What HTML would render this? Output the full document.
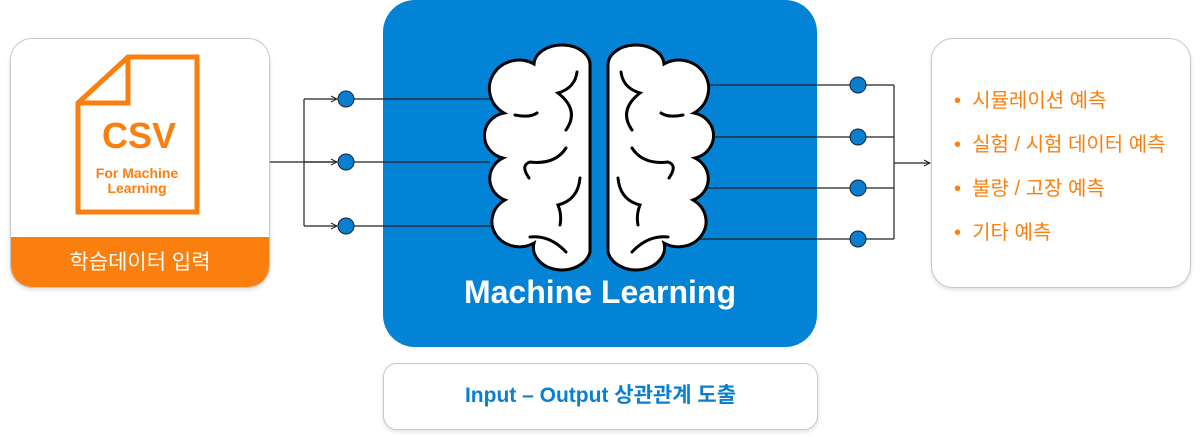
<!DOCTYPE html>
<html><head><meta charset="utf-8"><style>
body{margin:0;width:1200px;height:437px;background:#fff;position:relative;overflow:hidden;font-family:"Liberation Sans","Noto Sans CJK KR",sans-serif}
.box{position:absolute;box-sizing:border-box;border:1px solid #c8c8c8;border-radius:22px;background:#fff;box-shadow:0 2px 4px rgba(0,0,0,.12)}
</style></head><body>
<div class="box" style="left:10px;top:38px;width:260px;height:250px;overflow:hidden">
  <div style="position:absolute;left:0;right:0;top:198px;bottom:0;background:#fb7f0f;color:#fff;font-size:21px;text-align:center;line-height:52px">학습데이터 입력</div>
</div>
<div style="position:absolute;left:383px;top:0;width:434px;height:347px;background:#0283d6;border-radius:32px"></div>
<div style="position:absolute;left:383px;top:274px;width:434px;text-align:center;color:#fff;font-weight:bold;font-size:32px">Machine Learning</div>
<div class="box" style="left:383px;top:363px;width:435px;height:67px;border-radius:14px;text-align:center;line-height:64px;color:#0a7fd2;font-weight:bold;font-size:21px">Input – Output 상관관계 도출</div>
<div class="box" style="left:931px;top:38px;width:260px;height:250px;color:#fb7f0f;font-size:20px">
  <div style="position:absolute;left:22px;top:40px;line-height:44px;white-space:nowrap">
    <div>•&nbsp; 시뮬레이션 예측</div><div>•&nbsp; 실험 / 시험 데이터 예측</div><div>•&nbsp; 불량 / 고장 예측</div><div>•&nbsp; 기타 예측</div>
  </div>
</div>
<svg width="1200" height="437" style="position:absolute;left:0;top:0">
  <defs><marker id="a" markerWidth="8" markerHeight="8" refX="7" refY="4" orient="auto" markerUnits="userSpaceOnUse"><path d="M1,1 L7,4 L1,7" fill="none" stroke="#222" stroke-width="1"/></marker></defs>
  <path d="M128,57 L197,57 L197,212 L78,212 L78,103 Z M128,57 L128,103 L78,103" fill="#fff" stroke="#fb7f0f" stroke-width="5" stroke-linejoin="miter"/>
  <text x="139" y="148" text-anchor="middle" fill="#fb7f0f" font-weight="bold" font-size="36" font-family="Liberation Sans">CSV</text>
  <text x="137" y="178" text-anchor="middle" fill="#fb7f0f" font-weight="bold" font-size="14" font-family="Liberation Sans">For Machine</text>
  <text x="137" y="193" text-anchor="middle" fill="#fb7f0f" font-weight="bold" font-size="14" font-family="Liberation Sans">Learning</text>
  <g stroke="#222" stroke-width="1.2" fill="none">
    <path d="M270,162 H337"/><path d="M304,99 V226"/>
    <path d="M304,99 H337" marker-end="url(#a)"/><path d="M304,162 H337" marker-end="url(#a)"/><path d="M304,226 H337" marker-end="url(#a)"/>
    <path d="M354,99 H500 M354,162 H490 M354,226 H500"/>
    <path d="M690,85 H894 M700,137 H894 M700,188 H894 M680,239 H894 M894,85 V239"/>
    <path d="M894,163 H930" marker-end="url(#a)"/>
  </g>
  <g fill="#0a7fd2" stroke="#123" stroke-width="1">
    <circle cx="346" cy="99" r="8"/><circle cx="346" cy="162" r="8"/><circle cx="346" cy="226" r="8"/>
    <circle cx="858" cy="85" r="8"/><circle cx="858" cy="137" r="8"/><circle cx="858" cy="188" r="8"/><circle cx="858" cy="239" r="8"/>
  </g>
  <g id="h" fill="#fff" stroke="#000" stroke-width="3" stroke-linecap="round">
    <path d="M590,252 V66 A28,20 0 0 0 534,64 A24,23 0 0 0 504,113 A24,23 0 0 0 503,158 A24,23 0 0 0 505,200 A24,22 0 0 0 534,243 A28,22 0 0 0 590,252 Z"/>
    <path d="M577,72 Q575,88 558,93 Q580,110 566,130 M537,113 Q530,118 515,115 M566,148 Q555,165 530,162 Q520,165 529,178 M580,178 Q578,200 558,205 Q562,215 560,225 M530,237 Q550,235 566,252" fill="none"/>
  </g>
  <use href="#h" transform="translate(1198,0) scale(-1,1)"/>
</svg>
</body></html>
